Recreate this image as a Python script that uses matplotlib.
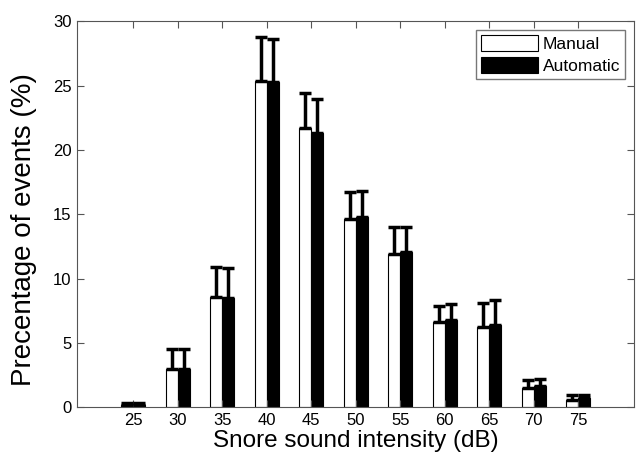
import matplotlib.pyplot as plt
import numpy as np

plt.rcParams['font.family'] = ['Liberation Sans', 'DejaVu Sans']

# Snore sound intensity bins (dB)
intensity = np.array([25, 30, 35, 40, 45, 50, 55, 60, 65, 70, 75])

# Percentage of events, manual vs automatic scoring
manual = [0.2, 2.95, 8.6, 25.4, 21.7, 14.6, 11.95, 6.65, 6.2, 1.5, 0.6]
manual_err = [0.1, 1.55, 2.3, 3.4, 2.7, 2.15, 2.05, 1.25, 1.9, 0.65, 0.35]
automatic = [0.2, 2.95, 8.5, 25.3, 21.3, 14.8, 12.1, 6.75, 6.4, 1.65, 0.7]
automatic_err = [0.1, 1.55, 2.3, 3.3, 2.7, 2.0, 1.95, 1.25, 1.9, 0.55, 0.25]

w = 1.35

fig = plt.figure(figsize=(6.38, 4.55), dpi=100)
ax = fig.add_axes([0.121, 0.105, 0.873, 0.848])

ax.bar(intensity - w/2, manual, width=w, color="white", edgecolor="black",
       linewidth=0.8, label="Manual",
       yerr=[np.zeros(len(manual)), manual_err],
       error_kw=dict(ecolor="black", elinewidth=2.5, capsize=4.5, capthick=2.5))
ax.bar(intensity + w/2, automatic, width=w, color="black", edgecolor="black",
       linewidth=0.8, label="Automatic",
       yerr=[np.zeros(len(automatic)), automatic_err],
       error_kw=dict(ecolor="black", elinewidth=2.5, capsize=4.5, capthick=2.5))

ax.set_xlim(18.7, 81.3)
ax.set_ylim(0, 30)
ax.set_xticks(intensity)
ax.set_yticks(np.arange(0, 31, 5))
ax.tick_params(direction="in", top=True, right=True, labelsize=12,
               length=5, color="#555555", pad=4)
for s in ax.spines.values():
    s.set_color("#555555")

ax.set_xlabel("Snore sound intensity (dB)", fontsize=17.5, labelpad=1.5)
ax.set_ylabel("Precentage of events (%)", fontsize=20)
ax.yaxis.set_label_coords(-0.072, 0.46)

leg = ax.legend(loc="upper right", fontsize=12.5, fancybox=False,
                borderpad=0.3, handlelength=3.3, handleheight=1.0,
                handletextpad=0.25, labelspacing=0.3, borderaxespad=0.5)
leg.get_frame().set_edgecolor("#555555")

plt.savefig("out.png")
